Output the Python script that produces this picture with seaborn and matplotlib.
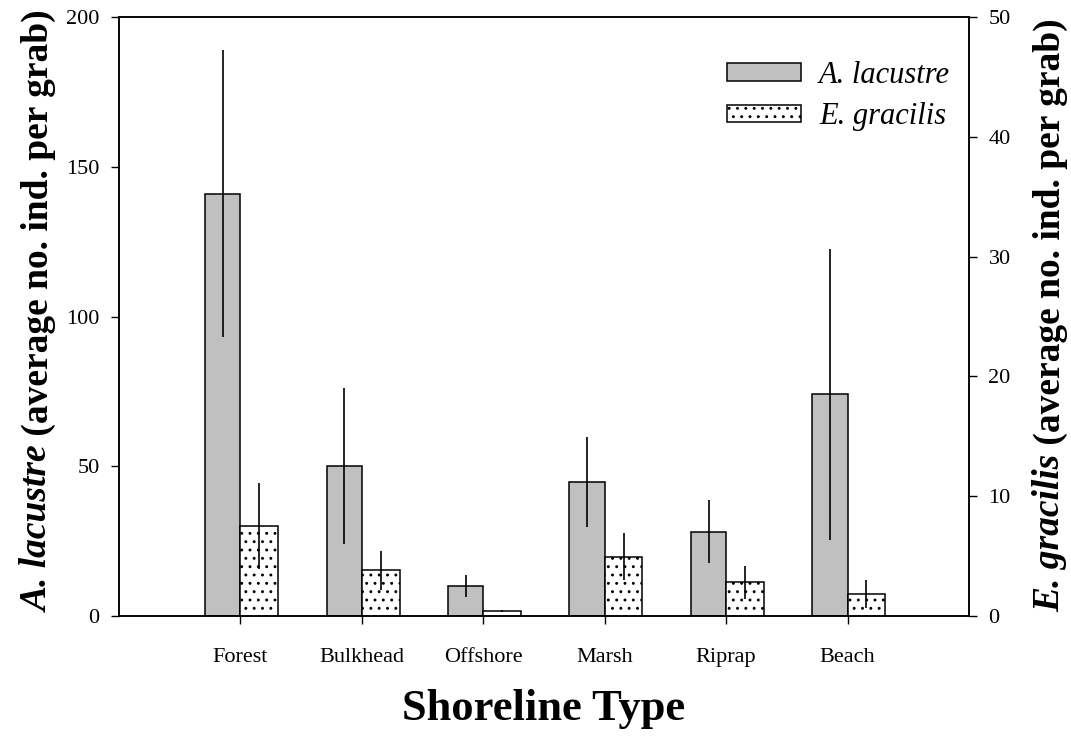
import numpy as np
import pandas as pd
import matplotlib
matplotlib.use("Agg")
import matplotlib.pyplot as plt
import seaborn as sns

categories = ["Forest", "Bulkhead", "Offshore", "Marsh", "Riprap", "Beach"]
lacustre_mean = [141, 50, 10, 44.7, 28.2, 74]
lacustre_err = [48, 26, 3.7, 15, 10.5, 48.5]
gracilis_mean = [7.5, 3.8, 0.4, 4.95, 2.8, 1.85]
gracilis_err = [3.6, 1.65, 0.1, 1.95, 1.4, 1.15]
left_ticks = [0, 50, 100, 150, 200]
right_ticks = [0, 10, 20, 30, 40, 50]

sns.set_theme(style="ticks")
plt.rcParams["font.family"] = ["Liberation Serif", "DejaVu Serif"]
plt.rcParams["hatch.color"] = "#333333"
plt.rcParams["hatch.linewidth"] = 0.9
plt.rcParams["text.color"] = "black"
plt.rcParams["axes.labelcolor"] = "black"

W, H = 1071, 744
fig = plt.figure(figsize=(W / 100, H / 100), dpi=100)
ax = fig.add_axes([119 / W, 1 - 616 / H, (969 - 119) / W, (616 - 17) / H])
ax2 = ax.twinx()

idx = np.arange(len(categories))
wA, wE = 0.29, 0.31
df = pd.DataFrame({
    "pos_a": idx - wA / 2,
    "pos_e": idx + wE / 2,
    "a": lacustre_mean,
    "a_err": lacustre_err,
    "e": gracilis_mean,
    "e_err": gracilis_err,
})

sns.barplot(data=df, x="pos_a", y="a", native_scale=True, width=wA,
            color="#c0c0c0", edgecolor="black", linewidth=1.1,
            saturation=1, errorbar=None, ax=ax)
ax.errorbar(df["pos_a"], df["a"], yerr=df["a_err"], fmt="none",
            ecolor="black", elinewidth=1.2, capsize=0, zorder=5)

sns.barplot(data=df, x="pos_e", y="e", native_scale=True, width=wE,
            color="white", edgecolor="black", linewidth=1.1, hatch="..",
            saturation=1, errorbar=None, ax=ax2)
ax2.errorbar(df["pos_e"], df["e"], yerr=df["e_err"], fmt="none",
             ecolor="black", elinewidth=1.2, capsize=0, zorder=5)

ax.set_xlim(-1, 6)
ax.set_xticks(idx)
ax.set_xticklabels(categories)
ax.set_ylim(0, 200)
ax.set_yticks(left_ticks)
ax2.set_ylim(0, 50)
ax2.set_yticks(right_ticks)

for a in (ax, ax2):
    for s in a.spines.values():
        s.set_visible(True)
        s.set_color("black")
        s.set_linewidth(1.1)
    a.tick_params(axis="both", direction="out", length=6, width=1.0,
                  colors="black", labelsize=16)
ax.tick_params(axis="x", pad=17)
ax.tick_params(axis="y", pad=8)
ax2.tick_params(axis="y", pad=8)

ax.set_xlabel("Shoreline Type", fontsize=32, fontweight="bold", labelpad=16)
ax.set_ylabel("")
ax2.set_ylabel("")
ax2.set_xlabel("")

renderer = fig.canvas.get_renderer()


def two_part_label(xc_px, ybot_px, species, rest, size=27):
    t1 = fig.text(xc_px / W, 1 - ybot_px / H, species, rotation=90,
                  rotation_mode="anchor", ha="left", va="center",
                  fontsize=size, fontweight="bold", fontstyle="italic")
    bb = t1.get_window_extent(renderer)
    h = bb.height
    fig.text(xc_px / W, 1 - (ybot_px - h) / H, rest, rotation=90,
             rotation_mode="anchor", ha="left", va="center",
             fontsize=size, fontweight="bold")


two_part_label(38, 612, "A. lacustre", " (average no. ind. per grab)")
two_part_label(1050, 612, "E. gracilis", " (average no. ind. per grab)")

handles = [ax.patches[0], ax2.patches[0]]
leg = ax2.legend(handles, ["A. lacustre", "E. gracilis"], loc="upper right",
                 bbox_to_anchor=((950 - 119) / 850, 1 - (61 - 17) / 599),
                 frameon=False, prop={"style": "italic", "size": 22},
                 handlelength=2.4, handleheight=0.5, labelspacing=0.4,
                 borderpad=0, borderaxespad=0, handletextpad=0.6)

fig.savefig("out.png", dpi=100)
